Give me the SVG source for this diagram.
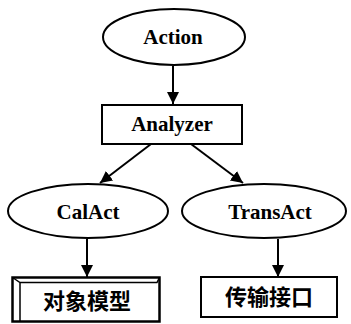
<svg xmlns="http://www.w3.org/2000/svg" width="351" height="324" viewBox="0 0 351 324">
<style>
.shape{fill:#fff;stroke:#000;stroke-width:2}
.lbl{font-family:"Liberation Serif","Times New Roman",serif;font-size:21px;font-weight:bold;text-anchor:middle;fill:#000}
.cjk{font-family:"Noto Sans CJK SC","Noto Sans CJK JP",sans-serif;font-size:22px;font-weight:bold;text-anchor:middle;fill:#000}
.frame{fill:none;stroke:#000;stroke-width:1.5}
.edge{stroke:#000;stroke-width:2;fill:none;marker-end:url(#ah)}
</style>
<defs>
<marker id="ah" markerWidth="12" markerHeight="13" refX="12" refY="6" orient="auto" markerUnits="userSpaceOnUse">
<path d="M0,0 L12,6 L0,12 Z" fill="#000"/>
</marker>
</defs>
<rect width="351" height="324" fill="#fff"/>
<g id="connectors">
<line class="edge" x1="173" y1="66" x2="173" y2="104"/>
<line class="edge" x1="151" y1="144" x2="100" y2="183"/>
<line class="edge" x1="191" y1="144" x2="243" y2="183"/>
<line class="edge" x1="87" y1="239" x2="87" y2="277"/>
<line class="edge" x1="278" y1="239" x2="278" y2="277"/>
</g>
<g id="action">
<ellipse class="shape" cx="174" cy="37" rx="71" ry="28"/>
<text class="lbl" x="173" y="44">Action</text>
</g>
<g id="analyzer">
<rect class="shape" x="102" y="105" width="140" height="39"/>
<text class="lbl" x="172" y="131">Analyzer</text>
</g>
<g id="calact">
<ellipse class="shape" cx="88" cy="211" rx="80" ry="27"/>
<text class="lbl" x="88" y="219">CalAct</text>
</g>
<g id="transact">
<ellipse class="shape" cx="264" cy="211" rx="82" ry="27"/>
<text class="lbl" x="270" y="219">TransAct</text>
</g>
<g id="object-model">
<rect x="12.5" y="277.5" width="147" height="44" fill="#fff" stroke="#000" stroke-width="2.5"/>
<path class="frame" d="M12.5,277.5 L20,282.5 L157,282.5 L159.5,277.5 M20,282.5 L20,321.5"/>
<text class="cjk" x="87" y="309">对象模型</text>
</g>
<g id="transport">
<rect class="shape" x="201" y="277" width="136" height="40"/>
<text class="cjk" x="269" y="305">传输接口</text>
</g>
</svg>
